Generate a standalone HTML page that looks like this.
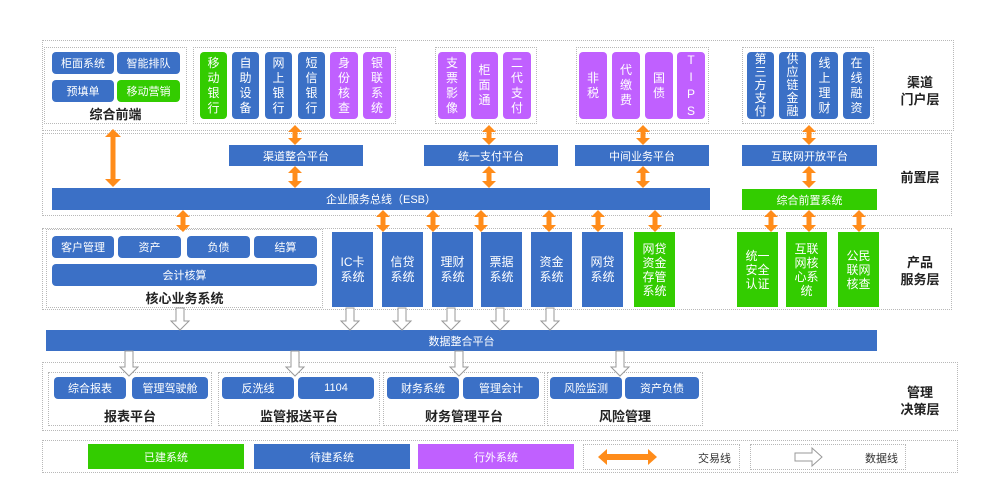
<!DOCTYPE html>
<html><head><meta charset="utf-8"><style>
body{margin:0;width:1003px;height:500px;background:#fff;position:relative;overflow:hidden;font-family:"Liberation Sans","Noto Sans CJK SC",sans-serif;}
.a{position:absolute;box-sizing:border-box;}
.dl{border:1.5px dotted #b8b8b8;}
.b{background:#3b70c6;color:#fff;font-size:11px;display:flex;align-items:center;justify-content:center;text-align:center;}
.g{background:#33cc00;}
.p{background:#c060ff;}
.r{border-radius:4px;}
.v{font-size:12px;line-height:15px;padding:0 6px;}
.lb{font-weight:bold;font-size:13px;color:#222;text-align:center;}
svg{position:absolute;left:0;top:0;}
</style></head><body>
<div class="a dl" style="left:42px;top:40px;width:912px;height:91px"></div>
<div class="a dl" style="left:42px;top:133px;width:910px;height:83px"></div>
<div class="a dl" style="left:42px;top:228px;width:910px;height:82px"></div>
<div class="a dl" style="left:42px;top:362px;width:916px;height:69px"></div>
<div class="a dl" style="left:42px;top:440px;width:916px;height:33px"></div>

<div class="a lb" style="left:895px;top:74px;width:50px;line-height:17px">渠道<br>门户层</div>
<div class="a lb" style="left:895px;top:167px;width:50px">前置层</div>
<div class="a lb" style="left:895px;top:254px;width:50px;line-height:17px">产品<br>服务层</div>
<div class="a lb" style="left:895px;top:384px;width:50px;line-height:17px">管理<br>决策层</div>

<div class="a dl" style="left:44px;top:47px;width:143px;height:77px"></div>
<div class="a b r" style="left:52px;top:52px;width:62px;height:22px">柜面系统</div>
<div class="a b r" style="left:117px;top:52px;width:63px;height:22px">智能排队</div>
<div class="a b r" style="left:52px;top:80px;width:62px;height:22px">预填单</div>
<div class="a b r g" style="left:117px;top:80px;width:63px;height:22px">移动营销</div>
<div class="a lb" style="left:44px;top:104px;width:143px">综合前端</div>

<div class="a dl" style="left:193px;top:47px;width:203px;height:77px"></div>
<div class="a b r v g" style="left:200px;top:52px;width:27px;height:67px">移动银行</div>
<div class="a b r v" style="left:232px;top:52px;width:27px;height:67px">自助设备</div>
<div class="a b r v" style="left:265px;top:52px;width:27px;height:67px">网上银行</div>
<div class="a b r v" style="left:298px;top:52px;width:27px;height:67px">短信银行</div>
<div class="a b r v p" style="left:330px;top:52px;width:28px;height:67px">身份核查</div>
<div class="a b r v p" style="left:363px;top:52px;width:28px;height:67px">银联系统</div>

<div class="a dl" style="left:435px;top:47px;width:102px;height:77px"></div>
<div class="a b r v p" style="left:438px;top:52px;width:28px;height:67px">支票影像</div>
<div class="a b r v p" style="left:471px;top:52px;width:27px;height:67px">柜面通</div>
<div class="a b r v p" style="left:503px;top:52px;width:28px;height:67px">二代支付</div>

<div class="a dl" style="left:576px;top:47px;width:133px;height:77px"></div>
<div class="a b r v p" style="left:579px;top:52px;width:28px;height:67px">非税</div>
<div class="a b r v p" style="left:612px;top:52px;width:28px;height:67px">代缴费</div>
<div class="a b r v p" style="left:645px;top:52px;width:28px;height:67px">国债</div>
<div class="a b r v p" style="left:677px;top:52px;width:28px;height:67px;line-height:17px">T<br>I<br>P<br>S</div>

<div class="a dl" style="left:742px;top:47px;width:132px;height:77px"></div>
<div class="a b r v" style="left:747px;top:52px;width:27px;height:67px;line-height:13px">第三方支付</div>
<div class="a b r v" style="left:779px;top:52px;width:27px;height:67px;line-height:13px">供应链金融</div>
<div class="a b r v" style="left:811px;top:52px;width:27px;height:67px">线上理财</div>
<div class="a b r v" style="left:843px;top:52px;width:27px;height:67px">在线融资</div>

<div class="a b" style="left:229px;top:145px;width:134px;height:21px">渠道整合平台</div>
<div class="a b" style="left:424px;top:145px;width:134px;height:21px">统一支付平台</div>
<div class="a b" style="left:575px;top:145px;width:134px;height:21px">中间业务平台</div>
<div class="a b" style="left:742px;top:145px;width:135px;height:21px">互联网开放平台</div>
<div class="a b" style="left:52px;top:188px;width:658px;height:22px">企业服务总线（ESB）</div>
<div class="a b g" style="left:742px;top:189px;width:135px;height:21px">综合前置系统</div>

<div class="a dl" style="left:46px;top:229px;width:277px;height:79px"></div>
<div class="a b r" style="left:52px;top:236px;width:62px;height:22px">客户管理</div>
<div class="a b r" style="left:118px;top:236px;width:63px;height:22px">资产</div>
<div class="a b r" style="left:187px;top:236px;width:63px;height:22px">负债</div>
<div class="a b r" style="left:254px;top:236px;width:63px;height:22px">结算</div>
<div class="a b r" style="left:52px;top:264px;width:265px;height:22px">会计核算</div>
<div class="a lb" style="left:46px;top:288px;width:277px">核心业务系统</div>

<div class="a b v" style="left:332px;top:232px;width:41px;height:75px">IC卡<br>系统</div>
<div class="a b v" style="left:382px;top:232px;width:41px;height:75px">信贷系统</div>
<div class="a b v" style="left:432px;top:232px;width:41px;height:75px">理财系统</div>
<div class="a b v" style="left:481px;top:232px;width:41px;height:75px">票据系统</div>
<div class="a b v" style="left:531px;top:232px;width:41px;height:75px">资金系统</div>
<div class="a b v" style="left:582px;top:232px;width:41px;height:75px">网贷系统</div>
<div class="a b v g" style="left:634px;top:232px;width:41px;height:75px;line-height:14px">网贷资金存管系统</div>
<div class="a b v g" style="left:737px;top:232px;width:41px;height:75px;line-height:14px">统一安全认证</div>
<div class="a b v g" style="left:786px;top:232px;width:41px;height:75px;line-height:14px">互联网核心系统</div>
<div class="a b v g" style="left:838px;top:232px;width:41px;height:75px;line-height:14px">公民联网核查</div>

<div class="a b" style="left:46px;top:330px;width:831px;height:21px">数据整合平台</div>

<div class="a dl" style="left:48px;top:372px;width:164px;height:54px"></div>
<div class="a dl" style="left:218px;top:372px;width:162px;height:54px"></div>
<div class="a dl" style="left:383px;top:372px;width:162px;height:54px"></div>
<div class="a dl" style="left:547px;top:372px;width:156px;height:54px"></div>
<div class="a b r" style="left:54px;top:377px;width:72px;height:22px">综合报表</div>
<div class="a b r" style="left:132px;top:377px;width:76px;height:22px">管理驾驶舱</div>
<div class="a b r" style="left:222px;top:377px;width:72px;height:22px">反洗线</div>
<div class="a b r" style="left:298px;top:377px;width:76px;height:22px">1104</div>
<div class="a b r" style="left:387px;top:377px;width:72px;height:22px">财务系统</div>
<div class="a b r" style="left:463px;top:377px;width:76px;height:22px">管理会计</div>
<div class="a b r" style="left:550px;top:377px;width:72px;height:22px">风险监测</div>
<div class="a b r" style="left:625px;top:377px;width:74px;height:22px">资产负债</div>
<div class="a lb" style="left:48px;top:406px;width:164px">报表平台</div>
<div class="a lb" style="left:218px;top:406px;width:162px">监管报送平台</div>
<div class="a lb" style="left:383px;top:406px;width:162px">财务管理平台</div>
<div class="a lb" style="left:547px;top:406px;width:156px">风险管理</div>

<div class="a b g" style="left:88px;top:444px;width:156px;height:25px">已建系统</div>
<div class="a b" style="left:254px;top:444px;width:156px;height:25px">待建系统</div>
<div class="a b p" style="left:418px;top:444px;width:156px;height:25px">行外系统</div>
<div class="a dl" style="left:583px;top:444px;width:157px;height:26px"></div>
<div class="a dl" style="left:750px;top:444px;width:156px;height:26px"></div>
<div class="a" style="left:698px;top:450px;font-size:11px;color:#333">交易线</div>
<div class="a" style="left:865px;top:450px;font-size:11px;color:#333">数据线</div>

<svg width="1003" height="500">
<g fill="#ff8c1a">
<polygon points="113,129 121,137 115.5,137 115.5,179 121,179 113,187 105,179 110.5,179 110.5,137 105,137"/>
</g>
<g fill="#ff8c1a" id="arrs"></g>
<g fill="#fff" stroke="#999" stroke-width="1" id="darrs"></g>
</svg>
<script>
var ns="http://www.w3.org/2000/svg";
function oa(x,y1,y2){var h=7,w=7,s=2.5;var p=[x,y1,x+w,y1+h,x+s,y1+h,x+s,y2-h,x+w,y2-h,x,y2,x-w,y2-h,x-s,y2-h,x-s,y1+h,x-w,y1+h];var e=document.createElementNS(ns,"polygon");e.setAttribute("points",p.join(","));document.getElementById("arrs").appendChild(e);}
function da(x,y1,y2){var s=4,w=9,h=9;var p=[x-s,y1,x+s,y1,x+s,y2-h,x+w,y2-h,x,y2,x-w,y2-h,x-s,y2-h];var e=document.createElementNS(ns,"polygon");e.setAttribute("points",p.join(","));document.getElementById("darrs").appendChild(e);}
[295,489,643,809].forEach(function(x){oa(x,125,145);oa(x,166,188);});
[183,383,433,481,549,598,655].forEach(function(x){oa(x,210,232);});
[771,809,859].forEach(function(x){oa(x,210,232);});
[180,350,402,451,500,550].forEach(function(x){da(x,308,330);});
[129,295,459,620].forEach(function(x){da(x,351,376);});
var g=document.getElementById("arrs");var e=document.createElementNS(ns,"polygon");e.setAttribute("points","598,457 607,449 607,454 648,454 648,449 657,457 648,465 648,460 607,460 607,465");g.appendChild(e);
var d=document.getElementById("darrs");var f=document.createElementNS(ns,"polygon");f.setAttribute("points","795,453 812,453 812,448 822,457 812,466 812,461 795,461");d.appendChild(f);
</script>
</body></html>
